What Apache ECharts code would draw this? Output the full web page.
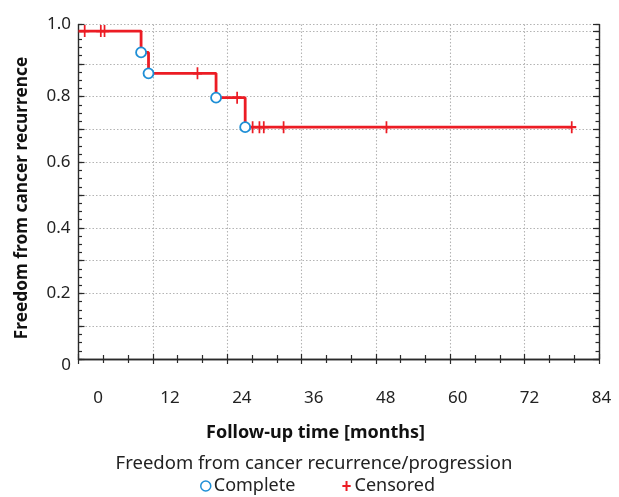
<!DOCTYPE html>
<html><head><meta charset="utf-8">
<script src="https://cdn.jsdelivr.net/npm/echarts@6/dist/echarts.min.js"></script>
<style>html,body{margin:0;padding:0;background:#fff}#c{width:619px;height:497px}</style>
</head><body><div id="c"></div>
<script>
// Kaplan-Meier step curve
const kmTimes = [0, 10.1, 11.3, 22.2, 26.9, 79.6];
const kmSurvival = [1.0, 0.935, 0.871, 0.797, 0.707, 0.707];
// Complete (event) points
const eventTimes = [10.1, 11.3, 22.2, 26.9];
const eventSurvival = [0.935, 0.871, 0.797, 0.707];
// Censored points
const censorTimes = [1.0, 3.6, 4.2, 19.2, 25.6, 28.1, 29.2, 29.9, 33.1, 49.7, 79.6];
const censorSurvival = [1.0, 1.0, 1.0, 0.871, 0.797, 0.707, 0.707, 0.707, 0.707, 0.707, 0.707];
// Tick labels
const xTickValues = [0, 12, 24, 36, 48, 60, 72, 84];
const yInnerTickValues = [0.2, 0.4, 0.6, 0.8];
const yEndTickValues = [0, 1.0];

const RED = '#ec1c24', BLUE = '#1f8fd6', AX = '#2a2a2a', FONT = 'Noto Sans';
const PLUS = 'path://M0,6H10M5,0V12';

const chart = echarts.init(document.getElementById('c'), null, {renderer: 'canvas'});

const frameLine = {show: true, lineStyle: {color: AX, width: 1.4}};
const gridLine = {show: true, lineStyle: {color: '#b4b4b4', width: 1.1, type: [1.5, 2]}};
const labelStyle = {fontFamily: FONT, fontSize: 17, color: '#222'};

function xFrame(pos, split) {
  return {
    type: 'value', gridIndex: 0, position: pos, min: 0, max: 84, interval: 12,
    axisLine: frameLine,
    axisTick: {show: true, inside: true, length: 5, lineStyle: {color: AX, width: 1.2}},
    minorTick: {show: true, splitNumber: 3, length: 4, lineStyle: {color: AX, width: 1.2}},
    axisLabel: {show: false},
    splitLine: split ? gridLine : {show: false}
  };
}
function yFrame(pos, interval, len, split, line, labels) {
  return {
    type: 'value', gridIndex: 0, position: pos, min: 0, max: 1.02, interval: interval,
    axisLine: line ? frameLine : {show: false},
    axisTick: {show: true, inside: true, length: len, lineStyle: {color: AX, width: 1.2}},
    axisLabel: labels ? Object.assign({show: true, customValues: labels, margin: 8,
        formatter: v => v.toFixed(1)}, labelStyle) : {show: false},
    splitLine: split ? gridLine : {show: false}
  };
}

const option = {
  backgroundColor: '#fff',
  animation: false,
  textStyle: {fontFamily: FONT},
  grid: [
    {left: 78.5, top: 24.5, width: 520.5, height: 334.5},
    {left: 98, top: 24, width: 503.5, height: 341}
  ],
  xAxis: [
    xFrame('bottom', true),
    xFrame('top', false),
    {
      type: 'value', gridIndex: 1, position: 'bottom', min: 0, max: 84,
      axisLine: {show: false}, axisTick: {show: false}, splitLine: {show: false},
      axisLabel: Object.assign({show: true, customValues: xTickValues, margin: 25}, labelStyle)
    }
  ],
  yAxis: [
    yFrame('left', 0.1, 6, true, true, yInnerTickValues),
    yFrame('left', 0.025, 3.5, false, false, null),
    yFrame('right', 0.1, 6, false, true, null),
    yFrame('right', 0.025, 3.5, false, false, null),
    {
      type: 'value', gridIndex: 1, position: 'left', min: 0, max: 1,
      axisLine: {show: false}, axisTick: {show: false}, splitLine: {show: false},
      axisLabel: Object.assign({show: true, customValues: yEndTickValues, margin: 27,
        formatter: v => (v === 0 ? '0' : v.toFixed(1))}, labelStyle)
    }
  ],
  title: [
    {text: 'Follow-up time [months]', left: 315.5, top: 433, textAlign: 'center', textVerticalAlign: 'middle', padding: 0,
     textStyle: {fontFamily: FONT, fontSize: 18, fontWeight: 'bold', color: '#111'}},
    {text: 'Freedom from cancer recurrence/progression', left: 314, top: 464, textAlign: 'center', textVerticalAlign: 'middle', padding: 0,
     textStyle: {fontFamily: FONT, fontSize: 18.5, fontWeight: 'normal', color: '#222'}}
  ],
  graphic: [
    {type: 'text', x: 22, y: 198, rotation: Math.PI / 2,
     style: {text: 'Freedom from cancer recurrence', fontFamily: FONT, fontSize: 17.3, fontWeight: 'bold',
             fill: '#111', align: 'center', verticalAlign: 'middle'}}
  ],
  legend: {
    left: 200, top: 477, padding: 0, itemGap: 46, itemWidth: 10, itemHeight: 10,
    textStyle: {fontFamily: FONT, fontSize: 18, color: '#222', padding: [0, 0, 0, -2]},
    data: [
      {name: 'Complete', icon: 'circle', itemStyle: {color: '#fff', borderColor: BLUE, borderWidth: 1.5}},
      {name: 'Censored', icon: PLUS, itemStyle: {color: RED, borderColor: RED, borderWidth: 2}}
    ]
  },
  series: [
    {
      name: 'KM', type: 'line', xAxisIndex: 0, yAxisIndex: 0, step: 'end',
      data: kmTimes.map((t, i) => [t, kmSurvival[i]]),
      showSymbol: false, lineStyle: {color: RED, width: 2.8}, z: 3
    },
    {
      name: 'Censored', type: 'scatter', xAxisIndex: 0, yAxisIndex: 0,
      data: censorTimes.map((t, i) => [t, censorSurvival[i]]),
      symbol: PLUS, symbolSize: [9, 12],
      itemStyle: {color: RED, borderColor: RED, borderWidth: 2, opacity: 1}, z: 4
    },
    {
      name: 'Complete', type: 'scatter', xAxisIndex: 0, yAxisIndex: 0,
      data: eventTimes.map((t, i) => [t, eventSurvival[i]]),
      symbol: 'circle', symbolSize: 10,
      itemStyle: {color: '#fff', borderColor: BLUE, borderWidth: 1.8, opacity: 1}, z: 5
    }
  ]
};
chart.setOption(option);
</script>
</body></html>
